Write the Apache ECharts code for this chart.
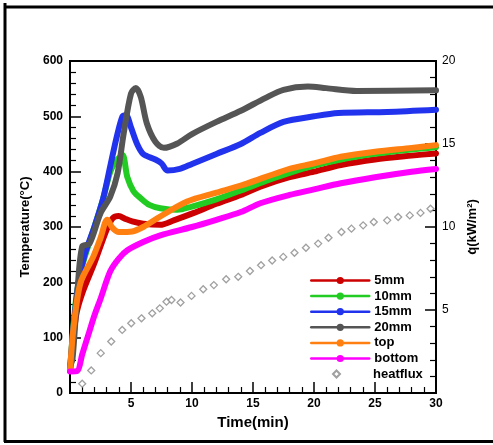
<!DOCTYPE html>
<html>
<head>
<meta charset="utf-8">
<script src="https://cdn.jsdelivr.net/npm/echarts@6/dist/echarts.min.js"></script>
<style>html,body{margin:0;padding:0;background:#fff}#c{width:493px;height:445px}</style>
</head>
<body>
<div id="c"></div>
<script>
var seriesNames = ['5mm', '10mm', '15mm', '20mm', 'top', 'bottom', 'heatflux'];
var xTicks = [0, 5, 10, 15, 20, 25, 30];
var yTicks = [0, 100, 200, 300, 400, 500, 600];
var qTicks = [0, 5, 10, 15, 20];

var t5 = [0, 0.5, 1, 2, 3, 3.5, 4, 4.5, 5.1, 6, 7.4, 8.5, 10.1, 12, 14, 15.6, 18, 20, 22.2, 25, 28, 30];
var v5 = [40, 140, 180, 235, 295, 316, 320, 315, 310, 306, 304, 312, 325, 342, 358, 373, 390, 400, 412, 422, 429, 433];

var t10 = [0, 0.5, 1, 2, 2.7, 3.3, 3.8, 4.3, 4.7, 5.2, 5.8, 6.5, 7.4, 8.8, 10, 12, 14, 16, 18, 20, 22, 24, 26, 28, 30];
var v10 = [40, 170, 230, 300, 350, 400, 420, 430, 390, 365, 352, 340, 334, 331, 337, 350, 366, 383, 398, 411, 421, 429, 435, 440, 444];

var t15 = [0, 0.3, 0.7, 1.2, 2, 2.7, 3.3, 3.8, 4.3, 4.6, 5, 5.5, 6, 7, 7.5, 8, 9, 10, 12, 14, 15.6, 17.5, 20, 22, 26, 30];
var v15 = [40, 120, 200, 250, 300, 350, 410, 460, 500, 502, 480, 450, 432, 422, 415, 402, 405, 414, 432, 450, 470, 490, 500, 506, 508, 512];

var t20 = [0, 0.2, 0.6, 1.0, 1.6, 2.5, 3.3, 3.9, 4.4, 5.0, 5.4, 5.8, 6.3, 7.0, 7.7, 8.8, 10, 12, 14, 16, 17.5, 19.5, 21, 23.5, 30];
var v20 = [50, 60, 180, 265, 270, 325, 355, 397, 469, 541, 551, 535, 487, 454, 443, 451, 468, 490, 510, 533, 548, 554, 551, 546, 547];

var tTop = [0, 0.3, 0.86, 1.9, 2.5, 3.05, 3.5, 4, 5.1, 6, 7.4, 9.6, 12, 14, 16, 18, 20, 22.2, 25, 28, 30];
var vTop = [40, 120, 199, 246, 280, 313, 298, 291, 292, 300, 319, 346, 362, 375, 390, 405, 415, 427, 436, 443, 448];

var tBot = [0, 0.6, 1, 1.5, 2, 2.5, 3.3, 4, 4.7, 6, 7.4, 10, 12, 14, 15.6, 18, 20, 22.2, 25, 28, 30];
var vBot = [39, 40, 70, 105, 140, 170, 220, 243, 258, 273, 285, 300, 313, 327, 343, 358, 368, 379, 390, 400, 405];

var tQ = [1.0, 1.74, 2.52, 3.38, 4.28, 5.02, 5.86, 6.74, 7.36, 7.91, 8.32, 9.06, 9.96, 10.92, 11.79, 12.8, 13.79, 14.75, 15.66, 16.57, 17.48, 18.4, 19.34, 20.34, 21.19, 22.25, 23.07, 24.03, 24.9, 26.0, 26.9, 27.85, 28.73, 29.55];
var vQ = [0.56, 1.36, 2.4, 3.1, 3.8, 4.2, 4.5, 4.8, 5.1, 5.5, 5.6, 5.45, 5.85, 6.25, 6.5, 6.85, 7.0, 7.35, 7.7, 7.98, 8.2, 8.45, 8.75, 9.0, 9.35, 9.7, 9.9, 10.1, 10.3, 10.4, 10.6, 10.7, 10.85, 11.1];

var colors = ['#cc0000', '#22cc22', '#2233ee', '#555555', '#ff8010', '#ff00ff', '#888888'];

function pairs(t, v) { return t.map(function (x, i) { return [x, v[i]]; }); }
var lineData = [pairs(t5, v5), pairs(t10, v10), pairs(t15, v15), pairs(t20, v20), pairs(tTop, vTop), pairs(tBot, vBot)];

var series = lineData.map(function (d, i) {
  return {
    name: seriesNames[i], type: 'line', data: d, smooth: 0.3,
    symbol: 'circle', showSymbol: false, symbolSize: 7,
    yAxisIndex: 0, color: colors[i],
    lineStyle: { width: 6, color: colors[i], cap: 'round', join: 'round' },
    itemStyle: { color: colors[i] },
    z: 2 + i
  };
});
series.push({
  name: seriesNames[6], type: 'scatter', yAxisIndex: 1, data: pairs(tQ, vQ),
  symbol: 'diamond', symbolSize: 7,
  itemStyle: { color: '#fff', borderColor: '#888', borderWidth: 1.3 }, z: 10
});

var fontFam = 'Arial, Liberation Sans';
var axisTxt = { color: '#000', fontFamily: fontFam, fontWeight: 'bold', fontSize: 12 };
var legendTxt = { color: '#000', fontFamily: fontFam, fontWeight: 'bold', fontSize: 13, lineHeight: 12 };

var chart = echarts.init(document.getElementById('c'));
chart.setOption({
  animation: false,
  backgroundColor: '#fff',
  grid: { left: 70, right: 57, top: 61, bottom: 52, show: true, borderColor: '#000', borderWidth: 2 },
  xAxis: {
    type: 'value', min: xTicks[0], max: xTicks[xTicks.length - 1], interval: 5,
    name: 'Time(min)', nameLocation: 'middle', nameGap: 15,
    nameTextStyle: { color: '#000', fontFamily: fontFam, fontWeight: 'bold', fontSize: 15 },
    axisLine: { lineStyle: { color: '#000', width: 2 } },
    axisTick: { inside: true, length: 11, lineStyle: { color: '#000', width: 1.5 } },
    minorTick: { show: true, splitNumber: 5, length: 6, lineStyle: { color: '#000', width: 1.2 } },
    axisLabel: Object.assign({ margin: 5, formatter: function (v) { return v === 0 ? '' : v; } }, axisTxt),
    splitLine: { show: false }
  },
  yAxis: [{
    type: 'value', min: yTicks[0], max: yTicks[yTicks.length - 1], interval: 100,
    name: 'Temperature(°C)', nameLocation: 'middle', nameGap: 32, nameRotate: 90,
    nameTextStyle: { color: '#000', fontFamily: fontFam, fontWeight: 'bold', fontSize: 13 },
    axisLine: { show: true, lineStyle: { color: '#000', width: 2 } },
    axisTick: { inside: true, length: 11, lineStyle: { color: '#000', width: 1.5 } },
    minorTick: { show: true, splitNumber: 5, length: 6, lineStyle: { color: '#000', width: 1.2 } },
    axisLabel: Object.assign({ margin: 7 }, axisTxt),
    splitLine: { show: false }
  }, {
    type: 'value', position: 'right', min: qTicks[0], max: qTicks[qTicks.length - 1], interval: 5,
    name: 'q\u0307(kW/m\u00b2)', nameLocation: 'middle', nameGap: 30, nameRotate: 90,
    nameTextStyle: { color: '#000', fontFamily: fontFam, fontWeight: 'bold', fontSize: 13 },
    axisLine: { show: true, lineStyle: { color: '#000', width: 2 } },
    axisTick: { inside: true, length: 11, lineStyle: { color: '#000', width: 1.5 } },
    minorTick: { show: true, splitNumber: 5, length: 6, lineStyle: { color: '#000', width: 1.2 } },
    axisLabel: { margin: 6, color: '#000', fontFamily: fontFam, fontSize: 12, formatter: function (v) { return v === 0 ? '' : v; } },
    splitLine: { show: false }
  }],
  legend: [{
    orient: 'vertical', left: 305, top: 269, itemWidth: 58, itemHeight: 9, itemGap: 2.6,
    data: seriesNames.slice(0, 6),
    lineStyle: { width: 2.5 },
    textStyle: Object.assign({ padding: [0, 0, 0, 0] }, legendTxt)
  }, {
    orient: 'vertical', left: 327, top: 362.5, itemWidth: 7, itemHeight: 7,
    data: [seriesNames[6]],
    textStyle: Object.assign({ padding: [0, 0, 0, 28] }, legendTxt)
  }],
  graphic: [
    { type: 'line', shape: { x1: 5, y1: 3, x2: 5, y2: 442 }, style: { stroke: '#000', lineWidth: 3 } },
    { type: 'line', shape: { x1: 4, y1: 7, x2: 493, y2: 7 }, style: { stroke: '#000', lineWidth: 3 } },
    { type: 'line', shape: { x1: 4, y1: 441.5, x2: 493, y2: 441.5 }, style: { stroke: '#000', lineWidth: 3 } }
  ],
  series: series
});
</script>
</body>
</html>
